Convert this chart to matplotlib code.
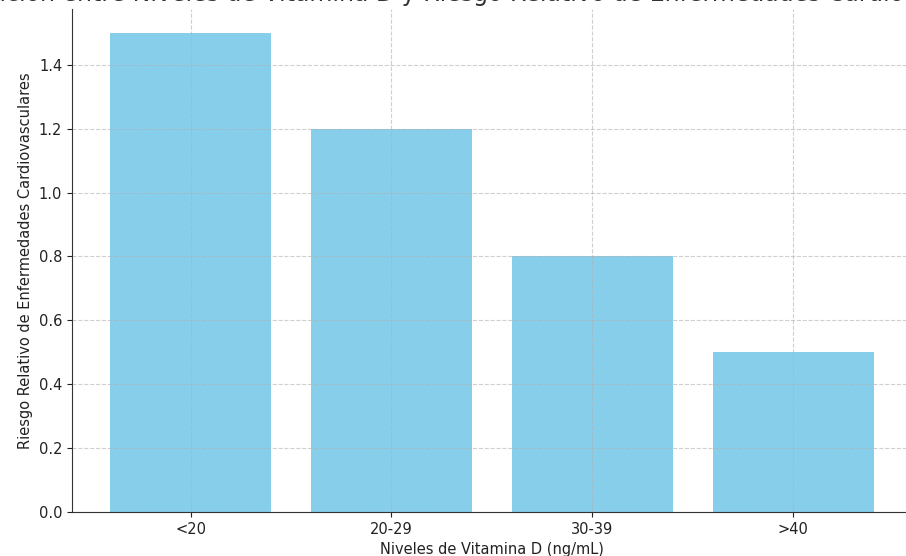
import matplotlib

matplotlib.use("Agg")
import matplotlib.pyplot as plt

# Vitamin D levels vs relative CVD risk
categories = ["<20", "20-29", "30-39", ">40"]
risk = [1.5, 1.2, 0.8, 0.5]

fig = plt.figure(figsize=(9.06, 5.56), dpi=100)
ax = fig.add_axes([0.0795, 0.0791, 0.927, 0.905])

ax.bar(categories, risk, color="skyblue")
ax.grid(True, linestyle="--", alpha=0.6)
ax.spines["top"].set_visible(False)
ax.spines["right"].set_visible(False)
for s in ("left", "bottom"):
    ax.spines[s].set_color("#333333")

ax.tick_params(labelsize=10.5, colors="#222222")
ax.set_xlabel("Niveles de Vitamina D (ng/mL)", fontsize=10.5, color="#222222")
ax.set_ylabel("Riesgo Relativo de Enfermedades Cardiovasculares", fontsize=10.5, color="#222222")
ax.set_title("Relación entre Niveles de Vitamina D y Riesgo Relativo de Enfermedades Cardiovasculares",
             fontsize=17, color="#333333", pad=5.5)

fig.savefig("out.png", dpi=100)
